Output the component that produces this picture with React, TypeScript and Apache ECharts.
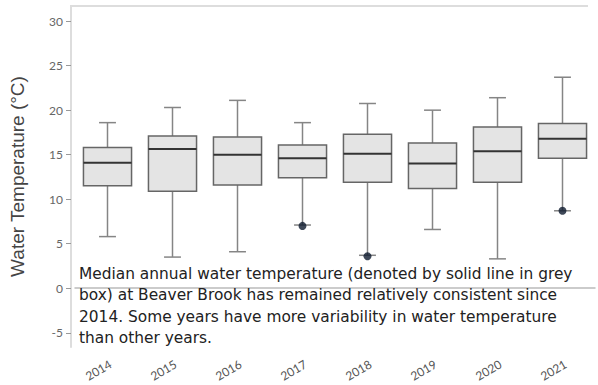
import React, { useEffect, useRef } from "react";
import * as echarts from "echarts";

const years = ["2014", "2015", "2016", "2017", "2018", "2019", "2020", "2021"];
const lowWhisker = [5.8, 3.5, 4.1, 7.1, 3.7, 6.6, 3.3, 8.7];
const q1 = [11.5, 10.9, 11.6, 12.4, 11.9, 11.2, 11.9, 14.6];
const median = [14.1, 15.65, 15.0, 14.6, 15.1, 14.0, 15.4, 16.8];
const q3 = [15.8, 17.1, 17.0, 16.1, 17.3, 16.3, 18.1, 18.5];
const highWhisker = [18.6, 20.3, 21.1, 18.6, 20.75, 20.0, 21.4, 23.7];
const outliers: [string, number][] = [
  ["2017", 7.0],
  ["2018", 3.6],
  ["2021", 8.7],
];
const yTicks = [-5, 0, 5, 10, 15, 20, 25, 30];
const noteLines = [
  "Median annual water temperature (denoted by solid line in grey",
  "box) at Beaver Brook has remained relatively consistent since",
  "2014. Some years have more variability in water temperature",
  "than other years.",
];

export default function App() {
  const ref = useRef<HTMLDivElement>(null);
  useEffect(() => {
    if (!ref.current) return;
    const chart = echarts.init(ref.current, undefined, { renderer: "svg" });
    const boxData = years.map((_, i) => [i, lowWhisker[i], q1[i], median[i], q3[i], highWhisker[i]]);
    chart.setOption({
      animation: false,
      textStyle: { fontFamily: "Lato" },
      grid: { left: 74, right: 3, top: 6, bottom: 38 },
      xAxis: {
        type: "category",
        data: years,
        axisLine: { lineStyle: { color: "#bbb", width: 1.5 } },
        axisTick: { alignWithLabel: true, length: 4, lineStyle: { color: "#999" } },
        axisLabel: { rotate: 30, color: "#555", fontSize: 12, margin: 11, align: "right", verticalAlign: "top" },
      },
      yAxis: {
        type: "value",
        min: -6.6,
        max: 31.7,
        offset: 4,
        name: "Water Temperature (°C)",
        nameLocation: "middle",
        nameGap: 44,
        nameTextStyle: { fontSize: 19, color: "#444", fontFamily: "Liberation Sans" },
        splitLine: { show: false },
        axisLine: { show: true, lineStyle: { color: "#ddd", width: 2 } },
        axisTick: { show: true, length: 5, customValues: yTicks, lineStyle: { color: "#999" } },
        axisLabel: { customValues: yTicks, color: "#666", fontSize: 12, margin: 8 },
      },
      graphic: [
        {
          type: "line",
          shape: { x1: 70, y1: 6, x2: 588, y2: 6 },
          style: { stroke: "#ddd", lineWidth: 2 },
          silent: true,
        },
        {
          type: "text",
          left: 79,
          top: 263,
          style: {
            text: noteLines.join("\n"),
            fontSize: 15.4,
            lineHeight: 21.5,
            fill: "#222",
            fontFamily: "DejaVu Sans",
          },
          z: 100,
        },
      ],
      series: [
        {
          type: "custom",
          data: boxData,
          encode: { x: 0, y: [1, 2, 3, 4, 5] },
          renderItem: (params: any, api: any) => {
            const x = api.value(0);
            const pLow = api.coord([x, api.value(1)]);
            const pQ1 = api.coord([x, api.value(2)]);
            const pMed = api.coord([x, api.value(3)]);
            const pQ3 = api.coord([x, api.value(4)]);
            const pHigh = api.coord([x, api.value(5)]);
            const band = api.size([1, 0])[0];
            const hw = band * 0.37;
            const cw = band * 0.13;
            const cx = pMed[0];
            const wStyle = { stroke: "#858585", lineWidth: 1.5 };
            return {
              type: "group",
              children: [
                { type: "line", shape: { x1: cx, y1: pHigh[1], x2: cx, y2: pQ3[1] }, style: wStyle },
                { type: "line", shape: { x1: cx, y1: pQ1[1], x2: cx, y2: pLow[1] }, style: wStyle },
                { type: "line", shape: { x1: cx - cw, y1: pHigh[1], x2: cx + cw, y2: pHigh[1] }, style: wStyle },
                { type: "line", shape: { x1: cx - cw, y1: pLow[1], x2: cx + cw, y2: pLow[1] }, style: wStyle },
                {
                  type: "rect",
                  shape: { x: cx - hw, y: pQ3[1], width: hw * 2, height: pQ1[1] - pQ3[1] },
                  style: { fill: "#e4e4e4", stroke: "#666", lineWidth: 1.5 },
                },
                {
                  type: "line",
                  shape: { x1: cx - hw, y1: pMed[1], x2: cx + hw, y2: pMed[1] },
                  style: { stroke: "#333", lineWidth: 2 },
                },
              ],
            };
          },
        },
        {
          type: "scatter",
          data: outliers,
          symbol: "circle",
          symbolSize: 8,
          itemStyle: { color: "#0e1a2e" },
          z: 5,
        },
      ],
    });
    return () => chart.dispose();
  }, []);
  return <div ref={ref} style={{ width: 598, height: 385, position: "absolute", left: 0, top: 0 }} />;
}
